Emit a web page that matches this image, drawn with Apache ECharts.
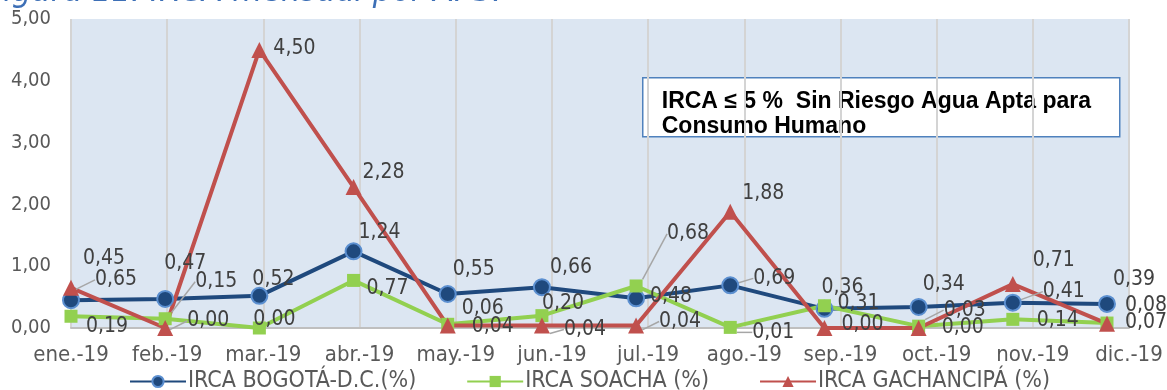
<!DOCTYPE html>
<html>
<head>
<meta charset="utf-8">
<script src="https://cdn.jsdelivr.net/npm/echarts@6/dist/echarts.min.js"></script>
<style>
  html, body { margin: 0; padding: 0; background: #ffffff; }
  #chart { width: 1167px; height: 390px; }
</style>
</head>
<body>
<div id="chart"></div>
<script>
// Monthly IRCA (%) per water-supply area, 2019
const months = ['ene.-19', 'feb.-19', 'mar.-19', 'abr.-19', 'may.-19', 'jun.-19',
                'jul.-19', 'ago.-19', 'sep.-19', 'oct.-19', 'nov.-19', 'dic.-19'];
const bogota     = [0.45, 0.47, 0.52, 1.24, 0.55, 0.66, 0.48, 0.69, 0.31, 0.34, 0.41, 0.39];
const soacha     = [0.19, 0.15, 0.00, 0.77, 0.06, 0.20, 0.68, 0.01, 0.36, 0.03, 0.14, 0.08];
const gachancipa = [0.65, 0.00, 4.50, 2.28, 0.04, 0.04, 0.04, 1.88, 0.00, 0.00, 0.71, 0.07];
const seriesNames = ['IRCA BOGOTÁ-D.C.(%)', 'IRCA SOACHA (%)', 'IRCA GACHANCIPÁ (%)'];
const yMin = 0, yMax = 5, yStep = 1;
const titleText = 'Figura 11. IRCA mensual por APS.';
const noteLines = ['IRCA ≤ 5 %  Sin Riesgo Agua Apta para', 'Consumo Humano'];

// Label placement: [dx, dy] from the marker centre to the label's left/middle point
const shiftBogota = [[12,-42],[-1,-35],[-7,-16],[5,-19],[5,-24],[8,-20],[14,-2],[23,-7],[13,-5],[4,-22],[30,-11],[6,-24]];
const shiftSoacha = [[15,10],[30,-37],[-6,-8],[13,8],[14,-16],[0,-12],[31,-52],[22,5],[-3,-18],[25,-16],[24,1],[18,-18]];
const shiftGach   = [[24,-8],[22,-7],[14,-1],[9,-15],[24,1],[22,4],[23,-4],[12,-18],[17,-3],[23,0],[20,-24],[18,-1]];
// Points whose labels are tied back with a guide line
const guideBogota = [7, 10];
const guideSoacha = [1, 6, 7, 9];
const guideGach   = [0, 1, 5, 6];

const labelFont = '"DejaVu Sans Condensed", "DejaVu Sans", sans-serif';
const fmt = v => v.toFixed(2).replace('.', ',');

function buildItems(values, guides) {
  return values.map((v, i) => guides.includes(i)
    ? { value: v, labelLine: { show: true } }
    : { value: v });
}

function makeLayout(shifts) {
  return function (p) {
    const s = shifts[p.dataIndex];
    return {
      x: p.rect.x + p.rect.width / 2 + s[0],
      y: p.rect.y + p.rect.height / 2 + s[1],
      align: 'left',
      verticalAlign: 'middle'
    };
  };
}

function makeSeries(name, values, color, symbol, size, shifts, guides, extraItem) {
  return {
    name: name,
    type: 'line',
    xAxisIndex: 1,
    yAxisIndex: 1,
    data: buildItems(values, guides),
    symbol: symbol,
    symbolSize: size,
    clip: false,
    lineStyle: { color: color, width: 4 },
    itemStyle: Object.assign({ color: color }, extraItem || {}),
    label: {
      show: true,
      formatter: p => fmt(p.value),
      color: '#404040',
      fontFamily: labelFont,
      fontSize: 21
    },
    labelLine: { show: false, lineStyle: { color: '#a6a6a6', width: 1.5 } },
    labelLayout: makeLayout(shifts),
    emphasis: { disabled: true }
  };
}

const chart = echarts.init(document.getElementById('chart'), null, { renderer: 'canvas' });

chart.setOption({
  animation: false,
  backgroundColor: '#ffffff',
  textStyle: { fontFamily: labelFont },
  grid: [
    { left: 71, right: 38, top: 19, bottom: 62, show: true, backgroundColor: '#dce6f2', borderWidth: 0 },
    { left: 71, right: 60, top: 19, bottom: 62 }
  ],
  xAxis: [
    {
      type: 'category', gridIndex: 0, data: months, boundaryGap: false,
      axisLine: { show: true, lineStyle: { color: '#bfbfbf', width: 2 } },
      axisTick: { show: false },
      axisLabel: { color: '#595959', fontSize: 22, fontFamily: labelFont, margin: 16, interval: 0 },
      splitLine: { show: true, lineStyle: { color: '#d4d4d4', width: 2 } }
    },
    {
      type: 'category', gridIndex: 1, data: months, boundaryGap: false, show: false
    }
  ],
  yAxis: [
    {
      type: 'value', gridIndex: 0, min: yMin, max: yMax, interval: yStep,
      axisLine: { show: false }, axisTick: { show: false },
      splitLine: { show: false },
      axisLabel: { color: '#595959', fontSize: 20, fontFamily: labelFont, margin: 20, formatter: v => fmt(v) }
    },
    {
      type: 'value', gridIndex: 1, min: yMin, max: yMax, interval: yStep, show: false,
      splitLine: { show: false }
    }
  ],
  legend: {
    data: seriesNames,
    left: 124, top: 365,
    itemWidth: 56, itemHeight: 14, itemGap: 50,
    textStyle: { color: '#595959', fontSize: 23, fontFamily: labelFont, padding: [0, 0, 0, -3] }
  },
  graphic: [
    {
      type: 'text', left: -14, top: -25, silent: true,
      style: { text: titleText, font: 'italic 34px "DejaVu Sans Condensed", "DejaVu Sans", sans-serif', fill: '#3d6fb6' }
    },
    {
      type: 'group', left: 642, top: 77, silent: true,
      children: [
        { type: 'rect', shape: { x: 0, y: 0, width: 477, height: 59 },
          style: { fill: '#ffffff', stroke: '#4f81bd', lineWidth: 1.5 } },
        { type: 'text', x: 19, y: 12,
          style: { text: noteLines[0], font: 'bold 23px "Liberation Sans", Arial, sans-serif', fill: '#000000', verticalAlign: 'top' } },
        { type: 'text', x: 19, y: 37,
          style: { text: noteLines[1], font: 'bold 23px "Liberation Sans", Arial, sans-serif', fill: '#000000', verticalAlign: 'top' } }
      ]
    }
  ],
  series: [
    makeSeries(seriesNames[0], bogota, '#1f497d', 'circle', 16, shiftBogota, guideBogota,
               { borderColor: '#5b8fd0', borderWidth: 2 }),
    makeSeries(seriesNames[1], soacha, '#92d050', 'rect', 13, shiftSoacha, guideSoacha),
    makeSeries(seriesNames[2], gachancipa, '#c0504d', 'triangle', 16, shiftGach, guideGach)
  ]
});
</script>
</body>
</html>
